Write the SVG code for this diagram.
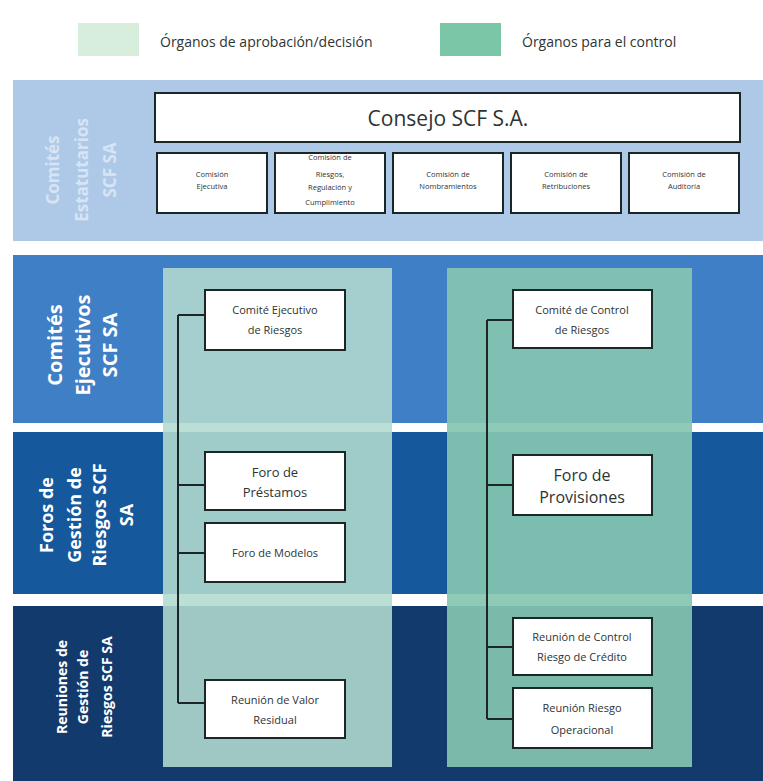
<svg xmlns="http://www.w3.org/2000/svg" width="763" height="781" viewBox="0 0 763 781">
  <style>
    text { font-family: "Open Sans", "Liberation Sans", sans-serif; fill: #2e3333; }
    .box { fill: #ffffff; stroke: #1b2626; stroke-width: 2; }
    .tiny { font-size: 7.5px; text-anchor: middle; }
    .lbl { font-size: 11px; text-anchor: middle; }
    .lbl13 { font-size: 13px; text-anchor: middle; }
    .lbl16 { font-size: 16px; text-anchor: middle; }
    .side { font-weight: bold; fill: #ffffff; text-anchor: middle; }
    .link { fill: none; stroke: #1b2626; stroke-width: 2; }
  </style>

  <rect width="763" height="781" fill="#ffffff"/>

  <!-- legend -->
  <g id="legend">
    <rect x="78" y="23" width="61" height="33" fill="#d6eedb"/>
    <text x="160" y="47" font-size="14">Órganos de aprobación/decisión</text>
    <rect x="440" y="23" width="61" height="33" fill="#7cc6a8"/>
    <text x="522" y="47" font-size="14">Órganos para el control</text>
  </g>

  <!-- horizontal level bands -->
  <g id="bands">
    <rect x="13" y="80" width="750" height="161" fill="#aec9e8"/>
    <rect x="13" y="255" width="750" height="168" fill="#3e7fc6"/>
    <rect x="13" y="432" width="750" height="162" fill="#15599c"/>
    <rect x="13" y="606" width="750" height="175" fill="#133a6c"/>
  </g>

  <!-- level titles -->
  <g id="band-labels">
    <g transform="translate(0,170) rotate(-90)" opacity="0.5">
      <text class="side" font-size="17" x="0" y="59">Comités</text>
      <text class="side" font-size="17" x="0" y="88">Estatutarios</text>
      <text class="side" font-size="17" x="0" y="116">SCF SA</text>
    </g>
    <g transform="translate(0,345) rotate(-90)">
      <text class="side" font-size="20" x="0" y="62">Comités</text>
      <text class="side" font-size="20" x="0" y="90">Ejecutivos</text>
      <text class="side" font-size="20" x="0" y="117">SCF SA</text>
    </g>
    <g transform="translate(0,515) rotate(-90)">
      <text class="side" font-size="18" x="0" y="53">Foros de</text>
      <text class="side" font-size="18" x="0" y="81">Gestión de</text>
      <text class="side" font-size="18" x="0" y="106">Riesgos SCF</text>
      <text class="side" font-size="18" x="0" y="133">SA</text>
    </g>
    <g transform="translate(0,687) rotate(-90)">
      <text class="side" font-size="14" x="0" y="67">Reuniones de</text>
      <text class="side" font-size="14" x="0" y="88">Gestión de</text>
      <text class="side" font-size="14" x="0" y="112">Riesgos SCF SA</text>
    </g>
  </g>

  <!-- column panels -->
  <g id="panels">
    <rect x="163" y="268" width="229" height="499" fill="#b3dbcf" opacity="0.88"/>
    <rect x="447" y="268" width="245" height="499" fill="#84c6b0" opacity="0.92"/>
  </g>

  <!-- board -->
  <g id="consejo">
    <rect class="box" x="155" y="93" width="585" height="49"/>
    <text x="448" y="126" font-size="21" text-anchor="middle">Consejo SCF S.A.</text>
  </g>
  <g id="comision-ejecutiva">
    <rect class="box" x="157" y="153" width="110" height="60"/>
    <text class="tiny" x="212" y="177">Comisión</text>
    <text class="tiny" x="212" y="189">Ejecutiva</text>
  </g>
  <g id="comision-riesgos">
    <rect class="box" x="275" y="153" width="110" height="60"/>
    <text class="tiny" x="330" y="160">Comisión de</text>
    <text class="tiny" x="330" y="177">Riesgos,</text>
    <text class="tiny" x="330" y="190">Regulación y</text>
    <text class="tiny" x="330" y="205">Cumplimiento</text>
  </g>
  <g id="comision-nombramientos">
    <rect class="box" x="393" y="153" width="110" height="60"/>
    <text class="tiny" x="448" y="177">Comisión de</text>
    <text class="tiny" x="448" y="189">Nombramientos</text>
  </g>
  <g id="comision-retribuciones">
    <rect class="box" x="511" y="153" width="110" height="60"/>
    <text class="tiny" x="566" y="177">Comisión de</text>
    <text class="tiny" x="566" y="189">Retribuciones</text>
  </g>
  <g id="comision-auditoria">
    <rect class="box" x="629" y="153" width="110" height="60"/>
    <text class="tiny" x="684" y="177">Comisión de</text>
    <text class="tiny" x="684" y="189">Auditoría</text>
  </g>

  <!-- connectors -->
  <g id="connectors">
    <path class="link" d="M178 315 V703 M178 315 H205 M178 485 H205 M178 553 H205 M178 703 H205"/>
    <path class="link" d="M487 320 V719 M487 320 H513 M487 485 H513 M487 647 H513 M487 719 H513"/>
  </g>

  <!-- approval / decision column -->
  <g id="comite-ejecutivo-riesgos">
    <rect class="box" x="205" y="290" width="140" height="60"/>
    <text class="lbl" x="275" y="314">Comité Ejecutivo</text>
    <text class="lbl" x="275" y="334">de Riesgos</text>
  </g>
  <g id="foro-prestamos">
    <rect class="box" x="205" y="452" width="140" height="58"/>
    <text class="lbl13" x="275" y="477">Foro de</text>
    <text class="lbl13" x="275" y="497">Préstamos</text>
  </g>
  <g id="foro-modelos">
    <rect class="box" x="205" y="523" width="140" height="59"/>
    <text class="lbl" x="275" y="557">Foro de Modelos</text>
  </g>
  <g id="reunion-valor-residual">
    <rect class="box" x="205" y="680" width="140" height="58"/>
    <text class="lbl" x="275" y="704">Reunión de Valor</text>
    <text class="lbl" x="275" y="724">Residual</text>
  </g>

  <!-- control column -->
  <g id="comite-control-riesgos">
    <rect class="box" x="513" y="290" width="139" height="58"/>
    <text class="lbl" x="582" y="314">Comité de Control</text>
    <text class="lbl" x="582" y="334">de Riesgos</text>
  </g>
  <g id="foro-provisiones">
    <rect class="box" x="513" y="455" width="139" height="60"/>
    <text class="lbl16" x="582" y="481">Foro de</text>
    <text class="lbl16" x="582" y="503">Provisiones</text>
  </g>
  <g id="reunion-control-credito">
    <rect class="box" x="513" y="618" width="139" height="57"/>
    <text class="lbl" x="582" y="641">Reunión de Control</text>
    <text class="lbl" x="582" y="661">Riesgo de Crédito</text>
  </g>
  <g id="reunion-riesgo-operacional">
    <rect class="box" x="513" y="688" width="139" height="60"/>
    <text class="lbl" x="582" y="712">Reunión Riesgo</text>
    <text class="lbl" x="582" y="734">Operacional</text>
  </g>
</svg>
